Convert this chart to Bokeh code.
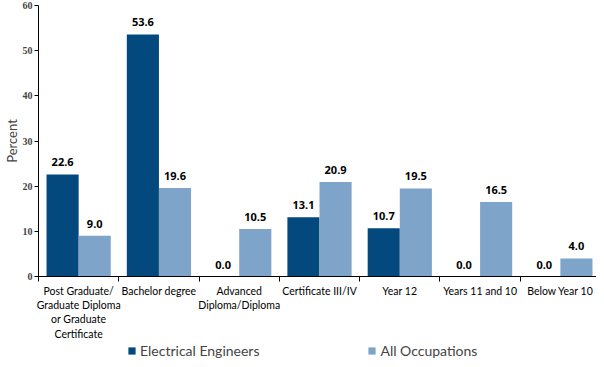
from bokeh.plotting import figure
from bokeh.layouts import column
from bokeh.models import ColumnDataSource, FixedTicker, Legend, LegendItem, Range1d, LabelSet
from bokeh.core.properties import value
from bokeh.transform import dodge
from bokeh.embed import file_html
from bokeh.resources import INLINE

categories = ["Post Graduate/\nGraduate Diploma\nor Graduate\nCertificate", "Bachelor degree",
              "Advanced\nDiploma/Diploma", "Certificate III/IV", "Year 12", "Years 11 and 10", "Below Year 10"]
electrical_engineers = [22.6, 53.6, 0.0, 13.1, 10.7, 0.0, 0.0]
all_occupations = [9.0, 19.6, 10.5, 20.9, 19.5, 16.5, 4.0]
y_ticks = [0, 10, 20, 30, 40, 50, 60]
series_names = ["Electrical Engineers", "All Occupations"]

DARK = "#03497E"
LIGHT = "#7EA4CA"
FONT = "Lato"

xs = [i + 0.5 for i in range(len(categories))]
src = ColumnDataSource(dict(
    x=xs, ee=electrical_engineers, ao=all_occupations,
    ee_lbl=[f"{v:.1f}" for v in electrical_engineers],
    ao_lbl=[f"{v:.1f}" for v in all_occupations],
))

p = figure(width=596, height=342, output_backend="svg", toolbar_location=None,
           x_range=Range1d(0, len(categories) - 0.05), y_range=Range1d(0, 60),
           min_border_left=30, min_border_right=0, min_border_top=5, min_border_bottom=0)
p.outline_line_color = None
p.xgrid.visible = False
p.ygrid.visible = False

p.vbar(x=dodge("x", -0.2), top="ee", width=0.4, source=src, color=DARK, line_color=None)
p.vbar(x=dodge("x", 0.2), top="ao", width=0.4, source=src, color=LIGHT, line_color=None)

for col, lbl, off in (("ee", "ee_lbl", -0.2), ("ao", "ao_lbl", 0.2)):
    ls = LabelSet(x=dodge("x", off), y=col, text=lbl, source=src, text_align="center",
                  text_baseline="bottom", y_offset=8, text_font=value("Noto Sans"),
                  text_font_style="bold", text_font_size="11px", text_color="#000000")
    p.add_layout(ls)

# x axis
p.xaxis.ticker = FixedTicker(ticks=xs, minor_ticks=list(range(len(categories) + 1)))
p.xaxis.major_label_overrides = {x: c for x, c in zip(xs, categories)}
p.xaxis.major_tick_line_color = None
p.xaxis.minor_tick_in = 0
p.xaxis.minor_tick_out = 5
p.xaxis.minor_tick_line_color = "black"
p.xaxis.axis_line_color = "black"
p.xaxis.major_label_text_font = FONT
p.xaxis.major_label_text_font_size = "10.5px"
p.xaxis.major_label_text_color = "black"
p.xaxis.major_label_standoff = 2

# y axis
p.yaxis.ticker = FixedTicker(ticks=y_ticks)
p.yaxis.minor_tick_line_color = None
p.yaxis.major_tick_in = 0
p.yaxis.major_tick_out = 4
p.yaxis.axis_line_color = "black"
p.yaxis.major_label_text_font = "Liberation Sans Narrow"
p.yaxis.major_label_text_font_style = "bold"
p.yaxis.major_label_text_font_size = "10px"
p.yaxis.major_label_standoff = 2
p.yaxis.axis_label = "Percent"
p.yaxis.axis_label_text_font = FONT
p.yaxis.axis_label_text_font_style = "normal"
p.yaxis.axis_label_text_font_size = "13px"
p.yaxis.axis_label_standoff = 0

# legend in a separate strip below the chart
lf = figure(width=596, height=17, output_backend="svg", toolbar_location=None,
            x_range=Range1d(0, 1), y_range=Range1d(0, 1),
            min_border=0, min_border_left=0, min_border_right=0, min_border_top=0, min_border_bottom=0)
lf.axis.visible = False
lf.grid.visible = False
lf.outline_line_color = None
lr1 = lf.vbar(x=[10], top=[10], width=0.4, color=DARK, line_color=None)
lr2 = lf.vbar(x=[10], top=[10], width=0.4, color=LIGHT, line_color=None)
legend = Legend(items=[LegendItem(label=series_names[0], renderers=[lr1]),
                       LegendItem(label=series_names[1], renderers=[lr2])],
                orientation="horizontal", location=(89, 0), spacing=108,
                label_text_font=FONT, label_text_font_size="14px",
                glyph_width=9, glyph_height=9, label_standoff=4, label_height=16,
                border_line_color=None, background_fill_alpha=0, padding=0, margin=0)
lf.add_layout(legend, "center")

layout = column(p, lf, spacing=0)
open("out.html", "w").write(file_html(layout, INLINE))
